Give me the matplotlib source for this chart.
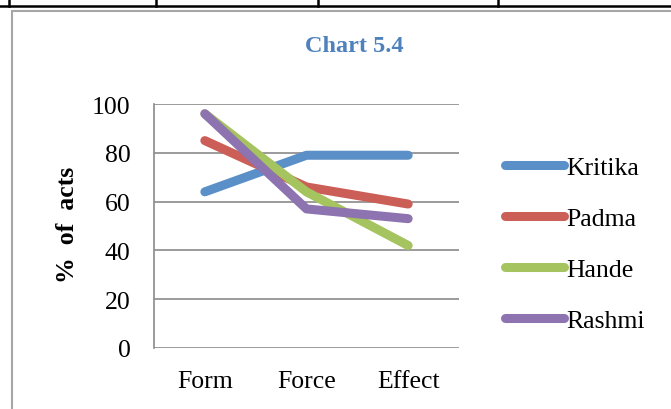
import numpy as np
import matplotlib
matplotlib.use('Agg')
import matplotlib.pyplot as plt
from matplotlib.patches import Rectangle
from matplotlib.lines import Line2D

# data
categories = ['Form', 'Force', 'Effect']
kritika = [64, 79, 79]
padma = [85, 66, 59]
hande = [96, 64, 42]
rashmi = [96, 57, 53]
names = ['Kritika', 'Padma', 'Hande', 'Rashmi']
colors = ['#5A8FC8', '#CB5E57', '#A5C35F', '#8D73AF']

plt.rcParams['font.family'] = ['Liberation Serif', 'DejaVu Serif']

W, H = 671, 410
fig = plt.figure(figsize=(W / 100, H / 100), dpi=100)

# bits of the surrounding word table and the chart box
for x0 in [9, 156, 318, 498]:
    fig.add_artist(Line2D([x0 / W, x0 / W], [1, 1 - 7 / H], color='black', lw=1.8))
fig.add_artist(Line2D([0, 1], [1 - 7 / H, 1 - 7 / H], color='black', lw=1.8))
fig.add_artist(Rectangle((12 / W, -0.1), 1.2, 1.1 - 12 / H, fill=False,
                         edgecolor='#A6A6A6', lw=1.5))

ax = fig.add_axes([154 / W, 1 - 349 / H, 305 / W, 244 / H])
x = np.arange(len(categories))
for vals, name, c in zip([kritika, padma, hande, rashmi], names, colors):
    ax.plot(x, vals, color=c, lw=6.5, solid_capstyle='round',
            solid_joinstyle='round', label=name)

ax.set_xlim(-0.5, 2.5)
ax.set_ylim(0, 100)
ax.set_yticks(range(0, 101, 20))
ax.set_xticks(x)
ax.set_xticklabels(categories)
ax.yaxis.grid(True, color='#8A8A8A', lw=1.2)
ax.set_axisbelow(True)
for s in ['top', 'right', 'bottom']:
    ax.spines[s].set_visible(False)
ax.spines['left'].set_color('#8A8A8A')
ax.spines['left'].set_linewidth(1.2)
ax.tick_params(axis='y', length=0, pad=17, labelsize=18.5)
ax.tick_params(axis='x', length=0, pad=16, labelsize=18.5)

fig.text(354 / W, 1 - 47 / H, 'Chart 5.4', color='#4F81BD', fontsize=17.5,
         fontweight='bold', ha='center', va='center')
fig.text(67 / W, 1 - 225 / H, '%  of  acts', fontsize=18.5, fontweight='bold',
         rotation=90, ha='center', va='center')

fig.legend(loc='center left', bbox_to_anchor=(505 / W, 1 - 245 / H),
           frameon=False, fontsize=18.5, handlelength=2.3, handletextpad=0.1,
           labelspacing=1.08, borderpad=0, borderaxespad=0)

fig.savefig('out.png', dpi=100)
